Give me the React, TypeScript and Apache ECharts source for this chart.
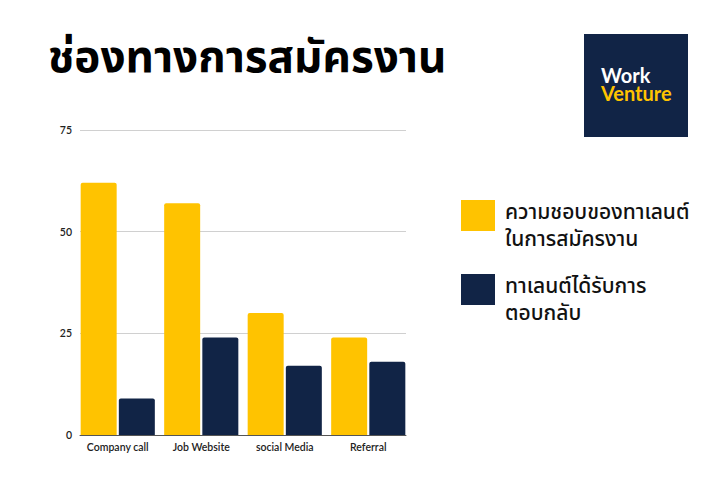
import React, { useEffect, useRef } from "react";
import * as echarts from "echarts";

const categories = ["Company call", "Job Website", "social Media", "Referral"];
const seriesNames = ["ความชอบของทาเลนต์\nในการสมัครงาน", "ทาเลนต์ได้รับการ\nตอบกลับ"];
const preferenceValues = [62, 57, 30, 24];
const responseValues = [9, 24, 17, 18];
const yTicks = { min: 0, max: 75, interval: 25 };
const title = "ช่องทางการสมัครงาน";
const logoLines = ["Work", "Venture"];

const YELLOW = "#FFC300";
const NAVY = "#112446";
const THAI = '"Noto Sans Thai", "Noto Sans Thai UI", "Noto Sans", "Noto Sans CJK SC", sans-serif';
const LATIN = 'Lato, "Noto Sans", sans-serif';

export default function App() {
  const ref = useRef<HTMLDivElement>(null);
  useEffect(() => {
    if (!ref.current) return;
    const chart = echarts.init(ref.current, undefined, { renderer: "svg" });
    const colors = [YELLOW, NAVY];
    const legendGraphics: any[] = [];
    seriesNames.forEach((name, i) => {
      const top = i === 0 ? 200 : 274;
      legendGraphics.push({
        type: "rect",
        shape: { x: 461, y: top, width: 34, height: 31 },
        style: { fill: colors[i] },
      });
      legendGraphics.push({
        type: "text",
        x: 505,
        y: top - 1,
        style: {
          text: name,
          font: `500 21px ${THAI}`,
          fill: "#111",
          lineHeight: 27,
          textVerticalAlign: "top",
        },
      });
    });
    chart.setOption({
      animation: false,
      backgroundColor: "#ffffff",
      graphic: [
        {
          type: "text",
          x: 48,
          y: 36,
          style: { text: title, font: `bold 44px ${THAI}`, fill: "#000" },
        },
        {
          type: "rect",
          shape: { x: 584, y: 34, width: 104, height: 103 },
          style: { fill: NAVY },
        },
        {
          type: "text",
          x: 601,
          y: 66,
          style: {
            text: `{w|${logoLines[0]}}\n{v|${logoLines[1]}}`,
            lineHeight: 18,
            rich: {
              w: { font: `bold 20px ${LATIN}`, fill: "#ffffff", lineHeight: 18 },
              v: { font: `bold 20px ${LATIN}`, fill: YELLOW, lineHeight: 18 },
            },
          },
        },
        ...legendGraphics,
      ],
      grid: [
        { left: 80, top: 130, width: 326, height: 305 },
        { left: 76, top: 130, width: 334, height: 305 },
      ],
      xAxis: [
        {
          type: "category",
          gridIndex: 0,
          data: categories,
          axisLine: { show: true, lineStyle: { color: "#555", width: 1 } },
          axisTick: { show: false },
          axisLabel: { show: false },
        },
        {
          type: "category",
          gridIndex: 1,
          data: categories,
          axisLine: { show: false },
          axisTick: { show: false },
          axisLabel: {
            margin: 6,
            color: "#222",
            fontSize: 10.5,
            fontWeight: 600,
            fontFamily: LATIN,
          },
        },
      ],
      yAxis: [
        {
          type: "value",
          gridIndex: 0,
          min: yTicks.min,
          max: yTicks.max,
          interval: yTicks.interval,
          axisLabel: {
            margin: 8,
            color: "#222",
            fontSize: 10.5,
            fontWeight: 600,
            fontFamily: LATIN,
          },
          splitLine: { lineStyle: { color: "#d0d0d0", width: 1 } },
          axisLine: { show: false },
          axisTick: { show: false },
        },
        {
          type: "value",
          gridIndex: 1,
          min: yTicks.min,
          max: yTicks.max,
          interval: yTicks.interval,
          show: false,
          splitLine: { show: false },
        },
      ],
      series: [
        {
          name: seriesNames[0],
          type: "bar",
          xAxisIndex: 1,
          yAxisIndex: 1,
          data: preferenceValues,
          barWidth: 36,
          barGap: "6%",
          itemStyle: { color: YELLOW, borderRadius: [2, 2, 0, 0] },
        },
        {
          name: seriesNames[1],
          type: "bar",
          xAxisIndex: 1,
          yAxisIndex: 1,
          data: responseValues,
          barWidth: 36,
          barGap: "6%",
          itemStyle: { color: NAVY, borderRadius: [2, 2, 0, 0] },
        },
      ],
    });
    return () => chart.dispose();
  }, []);
  return (
    <div
      ref={ref}
      style={{ position: "absolute", left: 0, top: 0, width: 720, height: 480 }}
    />
  );
}
